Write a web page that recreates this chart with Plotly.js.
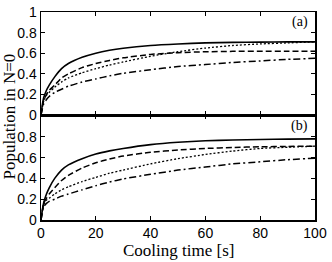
<!DOCTYPE html>
<html><head><meta charset="utf-8">
<script src="https://cdn.plot.ly/plotly-3.0.1.min.js"></script>
<style>html,body{margin:0;padding:0;background:#fff;}#c{width:332px;height:262px;}</style>
</head><body><div id="c"></div>
<script>
const t = [0,0.5,1,2,3,5,7.5,10,15,20,25,30,40,50,60,70,80,90,100];
// panel (a)
const aSolid  = [0,0.10,0.17,0.24,0.29,0.37,0.45,0.50,0.56,0.60,0.628,0.648,0.675,0.69,0.70,0.705,0.708,0.71,0.71];
const aDashed = [0,0.08,0.14,0.20,0.24,0.29,0.36,0.40,0.46,0.50,0.53,0.555,0.588,0.605,0.614,0.618,0.62,0.62,0.62];
const aDotted = [0,0.08,0.14,0.19,0.22,0.27,0.32,0.36,0.41,0.45,0.485,0.515,0.57,0.615,0.65,0.675,0.69,0.70,0.71];
const aDashDot= [0,0.06,0.11,0.15,0.18,0.22,0.25,0.28,0.32,0.35,0.38,0.405,0.44,0.47,0.49,0.51,0.525,0.54,0.55];
// panel (b)
const bSolid  = [0,0.10,0.17,0.25,0.31,0.40,0.48,0.53,0.59,0.635,0.665,0.688,0.725,0.748,0.762,0.77,0.775,0.778,0.78];
const bDashed = [0,0.09,0.16,0.21,0.25,0.31,0.38,0.43,0.50,0.55,0.587,0.615,0.652,0.673,0.688,0.698,0.704,0.708,0.71];
const bDotted = [0,0.09,0.15,0.19,0.21,0.25,0.29,0.32,0.37,0.41,0.45,0.48,0.54,0.59,0.63,0.663,0.688,0.70,0.71];
const bDashDot= [0,0.08,0.13,0.16,0.18,0.20,0.23,0.25,0.29,0.33,0.365,0.395,0.44,0.48,0.51,0.54,0.56,0.58,0.595];

const styles = [
  {dash:'solid', width:1.6},
  {dash:'6px,3px', width:1.5},
  {dash:'2px,2px', width:1.3},
  {dash:'7px,3px,2px,3px', width:1.5}
];
function tr(y, s, xa, ya){
  return {x:t, y:y, type:'scatter', mode:'lines', xaxis:xa, yaxis:ya,
    line:{color:'#000', width:s.width, dash:s.dash, shape:'spline', smoothing:0.5}, hoverinfo:'skip'};
}
const data = [
  tr(aSolid,styles[0],'x','y'), tr(aDashed,styles[1],'x','y'),
  tr(aDotted,styles[2],'x','y'), tr(aDashDot,styles[3],'x','y'),
  tr(bSolid,styles[0],'x2','y2'), tr(bDashed,styles[1],'x2','y2'),
  tr(bDotted,styles[2],'x2','y2'), tr(bDashDot,styles[3],'x2','y2')
];
const tickFont = {family:'Liberation Sans, Arial, sans-serif', size:14, color:'#000'};
const axBase = {showgrid:false, zeroline:false, showline:true, mirror:'ticks', linecolor:'#000', linewidth:1.5,
  ticks:'inside', ticklen:4, tickwidth:1, tickcolor:'#000', tickfont:tickFont};
const split = 0.5048;
const serif = 'Liberation Serif, Times New Roman, serif';
const layout = {
  width:332, height:262, showlegend:false,
  margin:{l:41, r:17, t:12, b:42, pad:0},
  paper_bgcolor:'#fff', plot_bgcolor:'#fff',
  xaxis: Object.assign({}, axBase, {range:[0,100], tickvals:[0,20,40,60,80,100], showticklabels:false, anchor:'y', domain:[0,1]}),
  yaxis: Object.assign({}, axBase, {range:[0,1], tickvals:[0,0.2,0.4,0.6,0.8,1], ticktext:['0','0.2','0.4','0.6','0.8','1'], domain:[split,1], anchor:'x'}),
  xaxis2: Object.assign({}, axBase, {range:[0,100], tickvals:[0,20,40,60,80,100], anchor:'y2', domain:[0,1]}),
  yaxis2: Object.assign({}, axBase, {range:[0,1.01], tickvals:[0,0.2,0.4,0.6,0.8], ticktext:['0','0.2','0.4','0.6','0.8'], domain:[0,split], anchor:'x2'}),
  annotations:[
    {text:'(a)', xref:'x domain', yref:'y domain', x:0.945, y:0.9, xanchor:'center', yanchor:'middle', showarrow:false,
     font:{family:serif, size:14, color:'#000'}},
    {text:'(b)', xref:'x2 domain', yref:'y2 domain', x:0.945, y:0.9, xanchor:'center', yanchor:'middle', showarrow:false,
     font:{family:serif, size:14, color:'#000'}},
    {text:'Population in N=0', xref:'paper', yref:'paper', x:-0.115, y:0.5, xanchor:'center', yanchor:'middle', textangle:-90, showarrow:false,
     font:{family:serif, size:17, color:'#000'}},
    {text:'Cooling time [s]', xref:'paper', yref:'paper', x:0.5, y:-0.148, xanchor:'center', yanchor:'middle', showarrow:false,
     font:{family:serif, size:17, color:'#000'}}
  ]
};
Plotly.newPlot('c', data, layout, {staticPlot:true, displayModeBar:false});
</script></body></html>
